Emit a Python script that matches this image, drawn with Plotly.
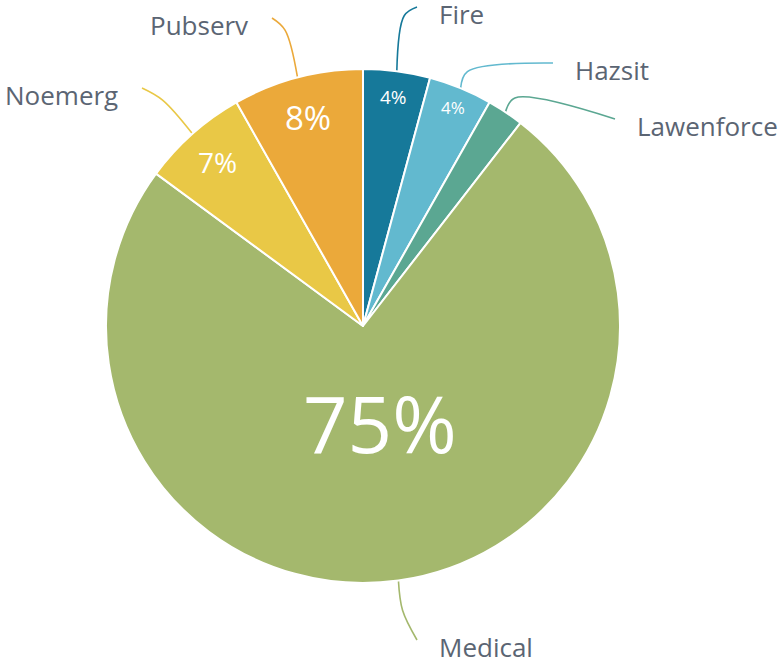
import math
import plotly.graph_objects as go

# ---- data ----
categories = ["Fire", "Hazsit", "Lawenforce", "Medical", "Noemerg", "Pubserv"]
values = [4.2, 4.0, 2.3, 74.6, 6.7, 8.2]

# ---- style ----
colors = ["#16799a", "#62b9cf", "#5ba792", "#a4b86d", "#e9c846", "#eba93a"]
pct_sizes = [19, 17, 0, 78, 28, 33]          # font size of the inside percentage
pct_radius = [0.90, 0.92, 0.0, 0.385, 0.855, 0.84]  # radial position of percentage (fraction of r)
pct_angle_shift = [0, 0, 0, -2.0, 0, 0]      # small angular nudge (degrees)
lead_len = [56, 18, 17, 30, 45, 49]          # first leader segment length (px)
label_end = [(417, 7), (553, 63), (615, 119), (417, 640), (142, 88), (272, 18)]
label_side = ["right", "right", "right", "right", "left", "left"]

W, H = 779, 663
CX, CY, R = 363, 326, 257
TEXT_COLOR = "#5b6573"
FONT = "Open Sans"

fig = go.Figure()

fig.add_trace(go.Pie(
    labels=categories, values=values, sort=False, direction="clockwise",
    rotation=0, textinfo="none", hoverinfo="label+percent",
    marker=dict(colors=colors, line=dict(color="white", width=2)),
    domain=dict(x=[(CX - R) / W, (CX + R) / W],
                y=[(H - CY - R) / H, (H - CY + R) / H]),
    showlegend=False,
))

total = sum(values)
cum = 0.0
annotations = []
for i, (cat, v) in enumerate(zip(categories, values)):
    mid = (cum + v / 2) / total * 2 * math.pi
    cum += v
    sx, sy = math.sin(mid), -math.cos(mid)
    # leader line
    p0 = (CX + R * sx, CY + R * sy)
    p1 = (CX + (R + lead_len[i]) * sx, CY + (R + lead_len[i]) * sy)
    p2 = label_end[i]
    fig.add_trace(go.Scatter(
        x=[p0[0], p1[0], p2[0]], y=[p0[1], p1[1], p2[1]],
        mode="lines", line=dict(color=colors[i], width=1.6, shape="spline", smoothing=1.0),
        hoverinfo="skip", showlegend=False, xaxis="x", yaxis="y",
    ))
    # outside label
    if label_side[i] == "right":
        annotations.append(dict(x=p2[0] + 20, y=p2[1] + 7, xref="x", yref="y",
                                text=cat, showarrow=False, xanchor="left", yanchor="middle",
                                font=dict(family=FONT, size=26, color=TEXT_COLOR)))
    else:
        annotations.append(dict(x=p2[0] - 22, y=p2[1] + 7, xref="x", yref="y",
                                text=cat, showarrow=False, xanchor="right", yanchor="middle",
                                font=dict(family=FONT, size=26, color=TEXT_COLOR)))
    # inside percentage
    if pct_sizes[i] > 0:
        rr = pct_radius[i] * R
        a = mid + math.radians(pct_angle_shift[i])
        annotations.append(dict(x=CX + rr * math.sin(a), y=CY - rr * math.cos(a), xref="x", yref="y",
                                text=f"{round(v / total * 100)}%", showarrow=False,
                                xanchor="center", yanchor="middle",
                                font=dict(family=FONT, size=pct_sizes[i], color="white")))

fig.update_layout(
    width=W, height=H,
    margin=dict(l=0, r=0, t=0, b=0),
    paper_bgcolor="white", plot_bgcolor="rgba(0,0,0,0)",
    xaxis=dict(range=[0, W], visible=False, fixedrange=True),
    yaxis=dict(range=[H, 0], visible=False, fixedrange=True),
    annotations=annotations,
    showlegend=False,
)

fig.write_html("out.html", config=dict(displayModeBar=False),
               post_script="document.body.style.margin='0px';document.body.style.overflow='hidden';")
